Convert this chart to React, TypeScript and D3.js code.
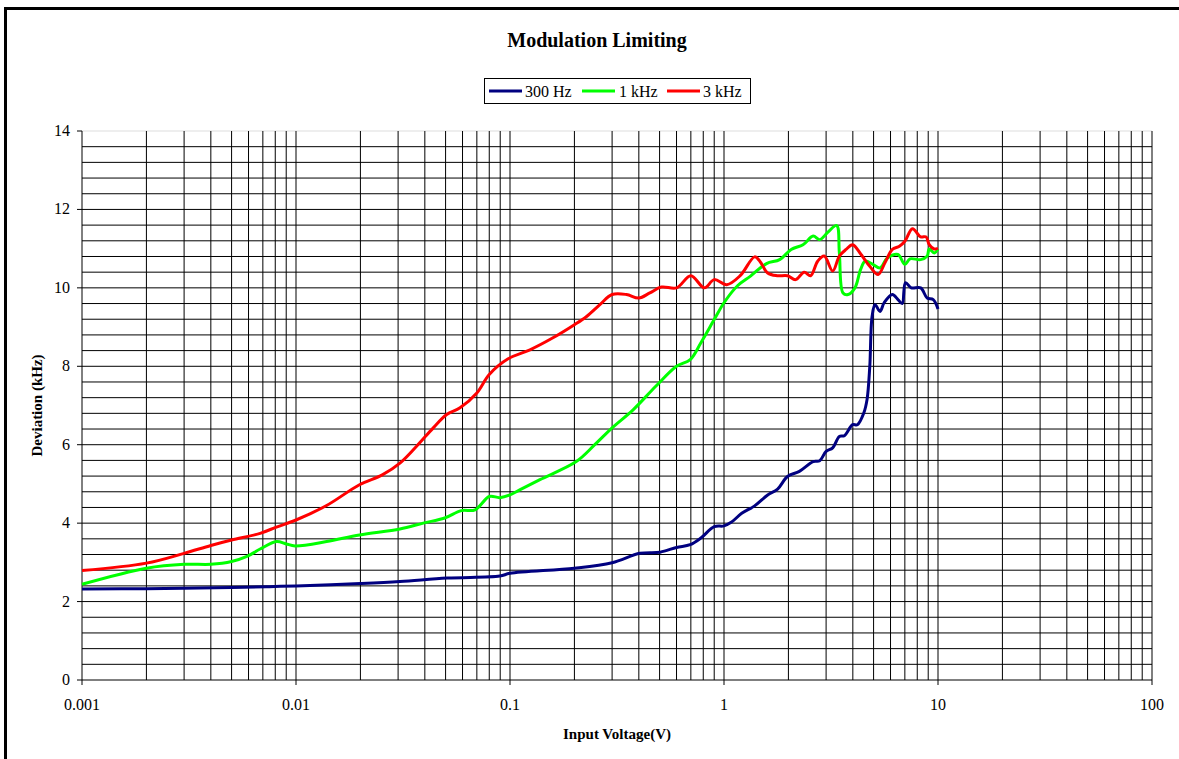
import React from "react";
import * as d3 from "d3";

const title = "Modulation Limiting";
const xTitle = "Input Voltage(V)";
const yTitle = "Deviation (kHz)";
const xTickValues = [0.001, 0.01, 0.1, 1, 10, 100];
const xTickLabels = ["0.001", "0.01", "0.1", "1", "10", "100"];
const yTickValues = [0, 2, 4, 6, 8, 10, 12, 14];

const seriesNames = ["300 Hz", "1 kHz", "3 kHz"];
const seriesColors = ["#000080", "#00FF00", "#FF0000"];

const blueX = [0.001, 0.002, 0.005, 0.0075, 0.01, 0.02, 0.0306, 0.0508, 0.0896, 0.1, 0.2, 0.3, 0.405, 0.503, 0.6, 0.695, 0.78, 0.9, 1.0, 1.08, 1.21, 1.39, 1.6, 1.78, 1.98, 2.25, 2.61, 2.8, 3.0, 3.22, 3.46, 3.65, 3.99, 4.2, 4.5, 4.66, 4.8, 4.92, 5.08, 5.36, 5.6, 6.12, 6.5, 6.8, 7.05, 7.5, 8.3, 8.9, 9.5, 10];
const blueY = [2.32, 2.33, 2.36, 2.38, 2.4, 2.46, 2.51, 2.6, 2.65, 2.72, 2.85, 2.99, 3.23, 3.26, 3.38, 3.45, 3.62, 3.91, 3.93, 4.02, 4.25, 4.44, 4.72, 4.87, 5.19, 5.32, 5.57, 5.59, 5.83, 5.92, 6.21, 6.23, 6.51, 6.51, 6.81, 7.15, 8.0, 9.27, 9.57, 9.4, 9.62, 9.83, 9.7, 9.6, 10.13, 10.0, 10.0, 9.74, 9.7, 9.46];

const greenX = [0.001, 0.002, 0.003, 0.004, 0.005, 0.0059, 0.0068, 0.0081, 0.009, 0.0099, 0.0139, 0.0198, 0.0306, 0.0393, 0.0495, 0.0592, 0.0687, 0.08, 0.0896, 0.1, 0.111, 0.138, 0.204, 0.249, 0.3, 0.376, 0.48, 0.6, 0.695, 0.78, 0.9, 1.0, 1.16, 1.33, 1.58, 1.82, 2.06, 2.34, 2.61, 2.8, 3.06, 3.36, 3.46, 3.6, 3.8, 4.09, 4.35, 4.57, 4.96, 5.36, 5.8, 6.5, 7.0, 7.4, 8.3, 8.9, 9.1, 9.6, 10];
const greenY = [2.44, 2.85, 2.95, 2.95, 3.02, 3.15, 3.34, 3.53, 3.47, 3.42, 3.53, 3.7, 3.85, 4.0, 4.13, 4.32, 4.34, 4.68, 4.65, 4.72, 4.85, 5.11, 5.57, 6.0, 6.43, 6.89, 7.49, 8.0, 8.17, 8.6, 9.19, 9.62, 10.06, 10.3, 10.62, 10.72, 10.98, 11.1, 11.32, 11.23, 11.42, 11.59, 10.89, 9.87, 9.83, 10.0, 10.47, 10.68, 10.6, 10.51, 10.76, 10.85, 10.6, 10.74, 10.72, 10.81, 10.99, 10.89, 10.99];

const redX = [0.001, 0.002, 0.003, 0.004, 0.005, 0.0068, 0.0081, 0.01, 0.0139, 0.0198, 0.0253, 0.0306, 0.0366, 0.0438, 0.0506, 0.0584, 0.07, 0.08, 0.098, 0.124, 0.158, 0.2, 0.228, 0.263, 0.3, 0.35, 0.4, 0.45, 0.51, 0.6, 0.7, 0.81, 0.9, 1.03, 1.19, 1.39, 1.47, 1.6, 1.77, 1.98, 2.16, 2.37, 2.54, 2.74, 2.94, 3.22, 3.46, 3.72, 3.99, 4.37, 4.8, 5.25, 5.65, 6.12, 6.6, 7.0, 7.6, 8.3, 8.8, 9.1, 9.6, 10];
const redY = [2.79, 2.98, 3.23, 3.43, 3.57, 3.74, 3.9, 4.08, 4.45, 4.98, 5.23, 5.53, 5.96, 6.43, 6.77, 6.94, 7.32, 7.79, 8.19, 8.42, 8.72, 9.06, 9.27, 9.57, 9.83, 9.83, 9.74, 9.87, 10.02, 10.0, 10.31, 10.0, 10.21, 10.08, 10.31, 10.79, 10.68, 10.38, 10.31, 10.31, 10.21, 10.4, 10.31, 10.68, 10.81, 10.43, 10.81, 10.98, 11.1, 10.85, 10.55, 10.34, 10.64, 10.98, 11.06, 11.19, 11.51, 11.3, 11.3, 11.1, 10.99, 11.01];

const seriesX = [blueX, greenX, redX];
const seriesY = [blueY, greenY, redY];

const W = 1179;
const H = 759;
const plotLeft = 82;
const plotRight = 1152;
const plotTop = 131;
const plotBottom = 680;
const FONT = "'Liberation Serif', 'Times New Roman', serif";

export default function App() {
  const x = d3.scaleLog().domain([0.001, 100]).range([plotLeft, plotRight]);
  const y = d3.scaleLinear().domain([0, 14]).range([plotBottom, plotTop]);

  const vGrid: number[] = [];
  for (let k = -3; k <= 1; k++) {
    for (let m = 1; m <= 9; m++) {
      const v = m * Math.pow(10, k);
      if (k === -3 && m === 1) continue;
      vGrid.push(v);
    }
  }
  vGrid.push(100);
  const hGrid = d3.range(1, 35).map((i) => i * 0.4);

  const line = d3
    .line<[number, number]>()
    .x((d) => x(d[0]))
    .y((d) => y(d[1]))
    .curve(d3.curveCatmullRom.alpha(0.5));

  const legendItems = [
    { lx: 489, tx: 525 },
    { lx: 582, tx: 619 },
    { lx: 667, tx: 703 },
  ];

  return (
    <svg
      width={W}
      height={H}
      style={{ position: "absolute", left: 0, top: 0, display: "block", background: "#fff" }}
      fontFamily={FONT}
    >
      <rect x={0} y={0} width={W} height={H} fill="#fff" />
      <rect x={5.5} y={8.5} width={1300} height={900} fill="none" stroke="#000" strokeWidth={3} />

      <text x={597} y={47} textAnchor="middle" fontSize={20} fontWeight="bold">
        {title}
      </text>

      {/* grid */}
      <line x1={plotLeft} x2={plotRight} y1={y(14)} y2={y(14)} stroke="#ddd" strokeWidth={1} />
      {hGrid.map((v, i) => (
        <line key={"h" + i} x1={plotLeft} x2={plotRight} y1={y(v)} y2={y(v)} stroke="#000" strokeWidth={1} />
      ))}
      {vGrid.map((v, i) => (
        <line key={"v" + i} x1={x(v)} x2={x(v)} y1={plotTop} y2={plotBottom} stroke="#000" strokeWidth={1} />
      ))}

      {/* axes */}
      <line x1={plotLeft} x2={plotLeft} y1={plotTop} y2={plotBottom} stroke="#000" strokeWidth={1} />
      <line x1={plotLeft} x2={plotRight} y1={plotBottom} y2={plotBottom} stroke="#000" strokeWidth={1} />
      {yTickValues.map((v) => (
        <g key={"yt" + v}>
          <line x1={plotLeft - 5} x2={plotLeft} y1={y(v)} y2={y(v)} stroke="#000" strokeWidth={1} />
          <text x={plotLeft - 12} y={y(v) + 5} textAnchor="end" fontSize={16}>
            {v}
          </text>
        </g>
      ))}
      {xTickValues.map((v, i) => (
        <g key={"xt" + i}>
          <line x1={x(v)} x2={x(v)} y1={plotBottom} y2={plotBottom + 5} stroke="#000" strokeWidth={1} />
          <text x={x(v)} y={plotBottom + 30} textAnchor="middle" fontSize={16}>
            {xTickLabels[i]}
          </text>
        </g>
      ))}

      <text x={617} y={739} textAnchor="middle" fontSize={15} fontWeight="bold">
        {xTitle}
      </text>
      <text
        transform={`translate(42, ${(plotTop + plotBottom) / 2}) rotate(-90)`}
        textAnchor="middle"
        fontSize={15}
        fontWeight="bold"
      >
        {yTitle}
      </text>

      {/* series */}
      {seriesX.map((xs, si) => (
        <path
          key={"s" + si}
          d={line(xs.map((xv, j) => [xv, seriesY[si][j]] as [number, number])) || ""}
          fill="none"
          stroke={seriesColors[si]}
          strokeWidth={3}
          strokeLinejoin="round"
        />
      ))}

      {/* legend */}
      <rect x={484.5} y={78.5} width={266} height={25} fill="#fff" stroke="#000" strokeWidth={1} />
      {seriesNames.map((n, i) => (
        <g key={"lg" + i}>
          <line x1={legendItems[i].lx} x2={legendItems[i].lx + 33} y1={91} y2={91} stroke={seriesColors[i]} strokeWidth={3} />
          <text x={legendItems[i].tx} y={97} fontSize={16}>
            {n}
          </text>
        </g>
      ))}
    </svg>
  );
}
